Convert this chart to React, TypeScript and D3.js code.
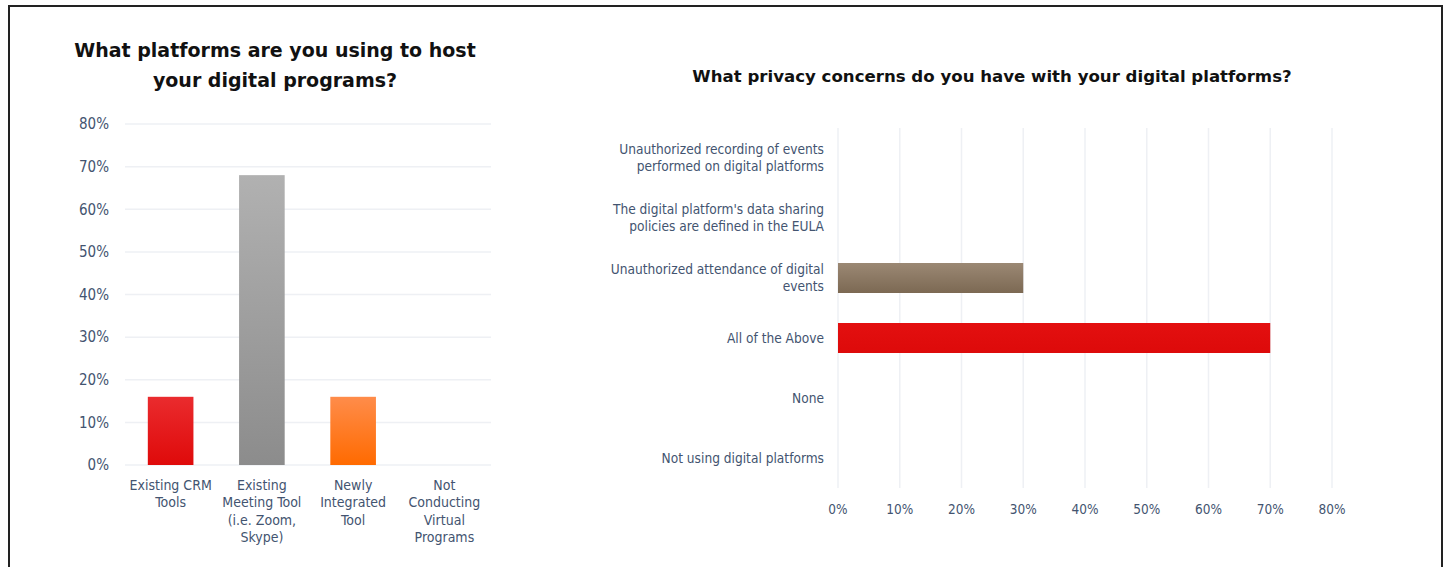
import React from "react";
import * as d3 from "d3";

const leftCategories = [
  ["Existing CRM", "Tools"],
  ["Existing", "Meeting Tool", "(i.e. Zoom,", "Skype)"],
  ["Newly", "Integrated", "Tool"],
  ["Not", "Conducting", "Virtual", "Programs"],
];
const leftValues = [0.16, 0.68, 0.16, 0];
const leftTicks = [0, 0.1, 0.2, 0.3, 0.4, 0.5, 0.6, 0.7, 0.8];

const rightCategories = [
  ["Unauthorized recording of events", "performed on digital platforms"],
  ["The digital platform's data sharing", "policies are defined in the EULA"],
  ["Unauthorized attendance of digital", "events"],
  ["All of the Above"],
  ["None"],
  ["Not using digital platforms"],
];
const rightValues = [0, 0, 0.3, 0.7, 0, 0];
const rightTicks = [0, 0.1, 0.2, 0.3, 0.4, 0.5, 0.6, 0.7, 0.8];

const leftGrad = [
  ["#ea2b2e", "#df0a0a"],
  ["#b1b1b1", "#8c8c8c"],
  ["#ff8c4a", "#ff6a00"],
  ["#cccccc", "#999999"],
];
const rightGrad = [
  ["#999", "#777"],
  ["#999", "#777"],
  ["#9b8874", "#7c6953"],
  ["#e31010", "#dd0a0a"],
  ["#999", "#777"],
  ["#999", "#777"],
];

const FONT = "'DejaVu Sans Condensed', 'DejaVu Sans', sans-serif";
const TITLE_FONT = "'DejaVu Sans', sans-serif";
const TEXT = "#435470";
const GRID = "#eef0f4";

export default function App() {
  const pct = d3.format(".0%");
  const lx = d3.scaleBand<number>().domain(leftValues.map((_, i) => i)).range([125, 490]).paddingInner(0.5).paddingOuter(0.25);
  const ly = d3.scaleLinear().domain([0, 0.8]).range([465, 124]);
  const ry = d3.scaleBand<number>().domain(rightValues.map((_, i) => i)).range([128, 488]).paddingInner(0.5).paddingOuter(0.25);
  const rx = d3.scaleLinear().domain([0, 0.8]).range([838, 1332]);

  return (
    <svg width={1448} height={567} style={{ position: "absolute", left: 0, top: 0, background: "#fff" }}>
      <defs>
        {leftGrad.map((g, i) => (
          <linearGradient key={i} id={`lg${i}`} x1="0" y1="0" x2="0" y2="1">
            <stop offset="0%" stopColor={g[0]} />
            <stop offset="100%" stopColor={g[1]} />
          </linearGradient>
        ))}
        {rightGrad.map((g, i) => (
          <linearGradient key={i} id={`rg${i}`} x1="0" y1="0" x2="0" y2="1">
            <stop offset="0%" stopColor={g[0]} />
            <stop offset="100%" stopColor={g[1]} />
          </linearGradient>
        ))}
      </defs>
      <rect x={0} y={0} width={1448} height={567} fill="#fff" />
      <rect x={9} y={6} width={1433} height={600} fill="none" stroke="#222" strokeWidth={2} />

      {/* Left chart */}
      <text x={275} y={57} textAnchor="middle" fontFamily={TITLE_FONT} fontWeight="bold" fontSize={19} fill="#111">
        What platforms are you using to host
      </text>
      <text x={275} y={87} textAnchor="middle" fontFamily={TITLE_FONT} fontWeight="bold" fontSize={19} fill="#111">
        your digital programs?
      </text>
      {leftTicks.map((t) => (
        <g key={t}>
          <line x1={125} x2={491} y1={ly(t)} y2={ly(t)} stroke={GRID} strokeWidth={1.5} />
          <text x={109} y={ly(t)} dy="0.35em" textAnchor="end" fontFamily={FONT} fontSize={15} fill={TEXT}>
            {pct(t)}
          </text>
        </g>
      ))}
      {leftValues.map((v, i) => (
        <rect key={i} x={lx(i)} y={ly(v)} width={lx.bandwidth()} height={ly(0) - ly(v)} fill={`url(#lg${i})`} />
      ))}
      {leftCategories.map((lines, i) => (
        <text key={i} textAnchor="middle" fontFamily={FONT} fontSize={14} fill={TEXT}>
          {lines.map((l, j) => (
            <tspan key={j} x={(lx(i) as number) + lx.bandwidth() / 2} y={485 + j * 17.5} dy="0.35em">
              {l}
            </tspan>
          ))}
        </text>
      ))}

      {/* Right chart */}
      <text x={992} y={82} textAnchor="middle" fontFamily={TITLE_FONT} fontWeight="bold" fontSize={16.6} fill="#111">
        What privacy concerns do you have with your digital platforms?
      </text>
      {rightTicks.map((t) => (
        <g key={t}>
          <line x1={rx(t)} x2={rx(t)} y1={128} y2={488} stroke={GRID} strokeWidth={1.5} />
          <text x={rx(t)} y={509} dy="0.35em" textAnchor="middle" fontFamily={FONT} fontSize={13.5} fill={TEXT}>
            {pct(t)}
          </text>
        </g>
      ))}
      {rightValues.map((v, i) =>
        v > 0 ? (
          <rect key={i} x={rx(0)} y={ry(i)} width={rx(v) - rx(0)} height={ry.bandwidth()} fill={`url(#rg${i})`} />
        ) : null
      )}
      {rightCategories.map((lines, i) => {
        const c = (ry(i) as number) + ry.bandwidth() / 2;
        const start = c - ((lines.length - 1) * 17) / 2;
        return (
          <text key={i} textAnchor="end" fontFamily={FONT} fontSize={13.6} fill={TEXT}>
            {lines.map((l, j) => (
              <tspan key={j} x={824} y={start + j * 17} dy="0.35em">
                {l}
              </tspan>
            ))}
          </text>
        );
      })}
    </svg>
  );
}
